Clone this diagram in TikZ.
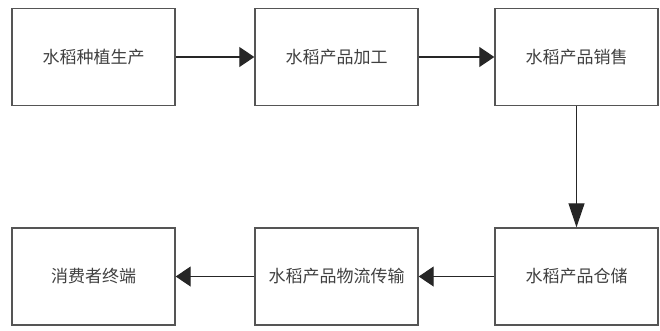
\documentclass[tikz,border=0pt]{standalone}
\usepackage{fontspec}
\newfontfamily\cjk{Noto Sans CJK SC}
\usetikzlibrary{arrows.meta}
\definecolor{boxline}{HTML}{555555}
\definecolor{txt}{HTML}{404040}
\tikzset{
  stepbox/.style={draw=boxline, line width=1.4pt, minimum width=163pt, minimum height=97pt, inner sep=0pt,
    font=\cjk\fontsize{17pt}{17pt}\selectfont, text=txt},
  harrow/.style={draw=black!85, line width=1.2pt, -{Triangle[length=15pt,width=20pt]}},
  varrow/.style={draw=black!85, line width=1.2pt, -{Triangle[length=24pt,width=16pt]}}
}
\begin{document}
\begin{tikzpicture}[x=1pt,y=-1pt]
\useasboundingbox (0,0) rectangle (660,330);
\node[stepbox] (a) at (93.5,57) {水稻种植生产};
\node[stepbox] (b) at (336.5,57) {水稻产品加工};
\node[stepbox] (c) at (576.5,57) {水稻产品销售};
\node[stepbox] (d) at (576.5,276.5) {水稻产品仓储};
\node[stepbox] (e) at (336.5,276.5) {水稻产品物流传输};
\node[stepbox] (f) at (93.5,276.5) {消费者终端};
\draw[harrow] (a) -- (b);
\draw[harrow] (b) -- (c);
\draw[varrow] (c) -- (d);
\draw[harrow] (d) -- (e);
\draw[harrow] (e) -- (f);
\end{tikzpicture}
\end{document}
